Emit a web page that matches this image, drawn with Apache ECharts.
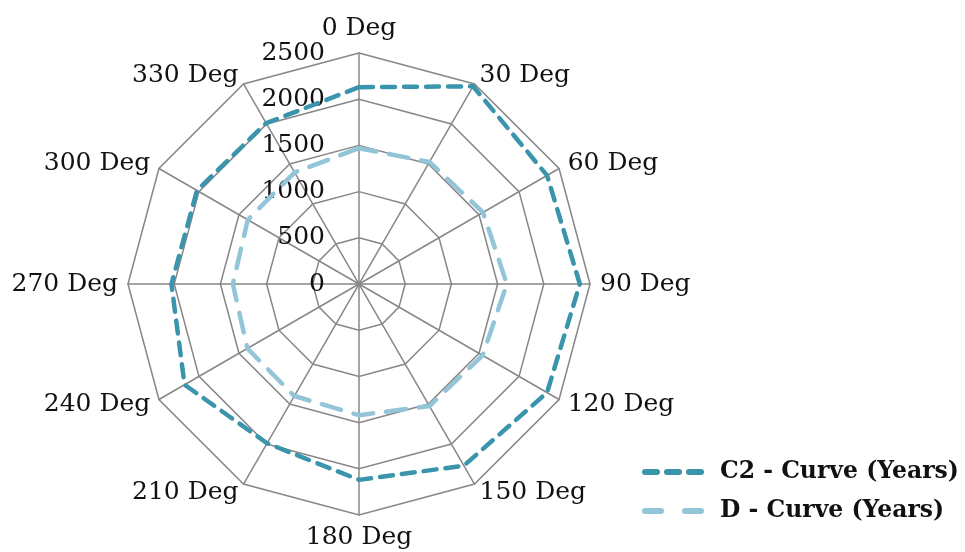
<!DOCTYPE html>
<html>
<head>
<meta charset="utf-8">
<script src="https://cdn.jsdelivr.net/npm/echarts@6/dist/echarts.min.js"></script>
<style>html,body{margin:0;padding:0;background:#fff}#c{width:965px;height:552px}</style>
</head>
<body>
<div id="c"></div>
<script>
// Angles in degrees (clockwise from top)
const angles = ['0 Deg','30 Deg','60 Deg','90 Deg','120 Deg','150 Deg','180 Deg','210 Deg','240 Deg','270 Deg','300 Deg','330 Deg'];
const c2Curve = [2130, 2470, 2350, 2390, 2350, 2270, 2120, 1990, 2180, 2030, 2025, 2010];
const dCurve  = [1470, 1525, 1550, 1600, 1545, 1525, 1420, 1400, 1395, 1365, 1390, 1395];
const seriesNames = ['C2 - Curve (Years)', 'D - Curve (Years)'];
const axisMax = 2500;

// ECharts places indicators counter-clockwise; reorder to run clockwise
const order = [0].concat(angles.map((_, i) => i).slice(1).reverse());
const reorder = arr => order.map(i => arr[i]);

const serif = 'DejaVu Serif';
const indicator = reorder(angles).map((name, i) => {
  const o = { name: name, min: 0, max: axisMax };
  if (i === 0) o.axisLabel = { show: true };
  return o;
});

const c2Icon = 'path://M3,0H15A3,3,0,0,1,15,6H3A3,3,0,0,1,3,0Z M25,0H37A3,3,0,0,1,37,6H25A3,3,0,0,1,25,0Z M47,0H59A3,3,0,0,1,59,6H47A3,3,0,0,1,47,0Z';
const dIcon = 'path://M3,0H19A3,3,0,0,1,19,6H3A3,3,0,0,1,3,0Z M43,0H59A3,3,0,0,1,59,6H43A3,3,0,0,1,43,0Z';

const chart = echarts.init(document.getElementById('c'), null, { renderer: 'canvas' });
chart.setOption({
  animation: false,
  legend: {
    orient: 'vertical',
    left: 637,
    top: 455,
    itemWidth: 62,
    itemHeight: 6,
    itemGap: 15,
    data: [
      { name: seriesNames[0], icon: c2Icon, itemStyle: { color: '#3a95ac' } },
      { name: seriesNames[1], icon: dIcon, itemStyle: { color: '#92c5d7' } }
    ],
    textStyle: { fontFamily: serif, fontWeight: 'bold', fontSize: 23.5, color: '#111', padding: [0, 0, 0, 11] }
  },
  radar: {
    center: [359, 284],
    radius: 231,
    startAngle: 90,
    splitNumber: 5,
    shape: 'polygon',
    nameGap: 10,
    indicator: indicator,
    axisName: { color: '#111', fontFamily: serif, fontSize: 25 },
    axisLine: { lineStyle: { color: '#878787', width: 1.5 } },
    splitLine: { lineStyle: { color: '#878787', width: 1.5 } },
    splitArea: { show: false },
    axisTick: { show: false },
    axisLabel: { show: false, color: '#111', fontFamily: serif, fontSize: 25, margin: 34,
                 formatter: v => String(v) }
  },
  series: [{
    type: 'radar',
    symbol: 'none',
    data: [
      { name: seriesNames[0], value: reorder(c2Curve),
        lineStyle: { color: '#3a95ac', width: 4.5, type: [13, 9], cap: 'round' },
        itemStyle: { color: '#3a95ac' } },
      { name: seriesNames[1], value: reorder(dCurve),
        lineStyle: { color: '#92c5d7', width: 4.5, type: [20, 13], cap: 'round' },
        itemStyle: { color: '#92c5d7' } }
    ]
  }]
});
</script>
</body>
</html>
